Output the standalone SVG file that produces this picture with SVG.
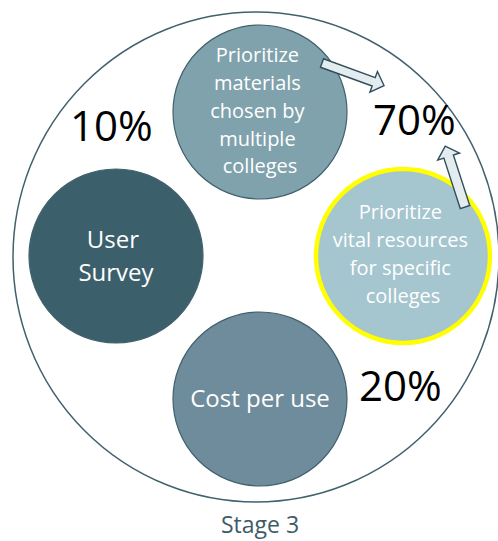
<svg xmlns="http://www.w3.org/2000/svg" width="498" height="541" viewBox="0 0 498 541">
  <style>
    .node { stroke: #41616d; stroke-width: 1.2; }
    .lbl { font-family: "Open Sans", "Noto Sans", sans-serif; fill: #ffffff; text-anchor: middle; }
    .s20 { font-size: 20px; }
    .s24 { font-size: 24px; }
    .pct { font-family: "Open Sans", "Noto Sans", sans-serif; font-size: 42px; fill: #000000; }
    .arrow { fill: #e4ecef; stroke: #2f4f5b; stroke-width: 1.4; stroke-linejoin: miter; }
  </style>

  <!-- enclosing stage boundary -->
  <g id="stage">
    <ellipse cx="256" cy="257" rx="243" ry="245" fill="#ffffff" stroke="#41616d" stroke-width="1.5"/>
  </g>

  <g id="node-materials">
    <circle class="node" cx="260" cy="112" r="87" fill="#7fa2ad"/>
    <text class="lbl s20">
      <tspan x="260" y="62">Prioritize</tspan>
      <tspan x="260" y="90">materials</tspan>
      <tspan x="260" y="118">chosen by</tspan>
      <tspan x="260" y="146">multiple</tspan>
      <tspan x="260" y="173">colleges</tspan>
    </text>
  </g>

  <g id="node-survey">
    <circle class="node" cx="116" cy="256" r="87" fill="#3c5f6c"/>
    <text class="lbl s24">
      <tspan x="116" y="248">User</tspan>
      <tspan x="116" y="281">Survey</tspan>
    </text>
  </g>

  <g id="node-cost">
    <circle class="node" cx="260" cy="399" r="87" fill="#6e8c9c"/>
    <text class="lbl s24" x="260" y="407">Cost per use</text>
  </g>

  <g id="node-vital">
    <circle cx="403" cy="256" r="87" fill="#a5c5cf" stroke="#ffff00" stroke-width="4.5"/>
    <text class="lbl s20">
      <tspan x="403" y="219">Prioritize</tspan>
      <tspan x="403" y="247">vital resources</tspan>
      <tspan x="403" y="275">for specific</tspan>
      <tspan x="403" y="303">colleges</tspan>
    </text>
  </g>

  <g id="weights">
    <text class="pct" x="70" y="141">10%</text>
    <text class="pct" x="373" y="135">70%</text>
    <text class="pct" x="359" y="401">20%</text>
  </g>

  <!-- block arrows pointing to the 70% weight -->
  <g id="connectors">
    <path class="arrow" transform="translate(322 63) rotate(20)" d="M0,-4.5 L55,-4.5 L55,-11 L66,0 L55,11 L55,4.5 L0,4.5 Z"/>
    <path class="arrow" transform="translate(465 207) rotate(-108)" d="M0,-5 L53,-5 L53,-11.5 L64,0 L53,11.5 L53,5 L0,5 Z"/>
  </g>

  <text id="caption" x="260" y="533" font-family="'Open Sans', 'Noto Sans', sans-serif" font-size="23" fill="#3e5c68" text-anchor="middle">Stage 3</text>
</svg>
